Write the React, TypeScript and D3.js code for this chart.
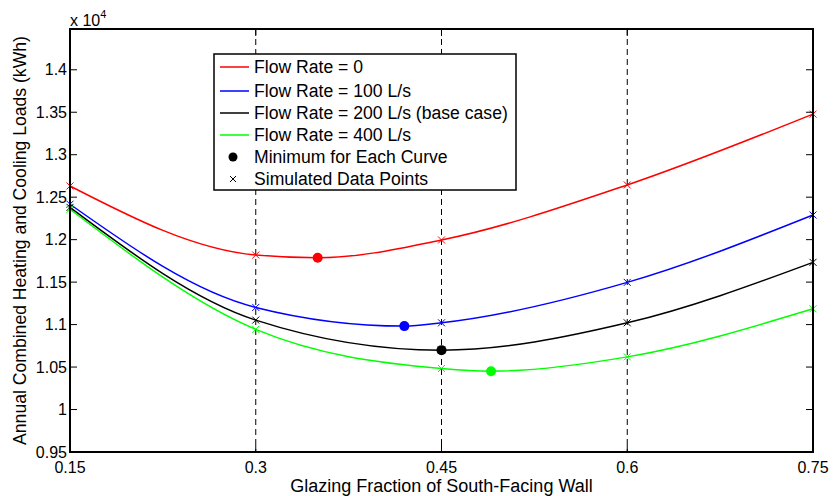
import React from "react";
import * as d3 from "d3";

const xTicks = [0.15, 0.3, 0.45, 0.6, 0.75];
const yTicks = [0.95, 1, 1.05, 1.1, 1.15, 1.2, 1.25, 1.3, 1.35, 1.4];
const yTickLabels = ["0.95", "1", "1.05", "1.1", "1.15", "1.2", "1.25", "1.3", "1.35", "1.4"];
const xTickLabels = ["0.15", "0.3", "0.45", "0.6", "0.75"];
const dashedAt = [0.3, 0.45, 0.6];

const glazing = [0.15, 0.3, 0.45, 0.6, 0.75];
const flow0 = [1.2632, 1.1819, 1.1996, 1.2644, 1.3478];
const flow100 = [1.2417, 1.1202, 1.1021, 1.1497, 1.229];
const flow200 = [1.238, 1.1053, 1.0699, 1.1021, 1.1733];
const flow400 = [1.2358, 1.0943, 1.0483, 1.062, 1.1186];

const minX = [0.35, 0.42, 0.45, 0.49];
const minY = [1.1787, 1.0982, 1.0699, 1.0451];

const seriesNames = [
  "Flow Rate = 0",
  "Flow Rate = 100 L/s",
  "Flow Rate = 200 L/s (base case)",
  "Flow Rate = 400 L/s",
];
const seriesColors = ["#ff0000", "#0000ff", "#000000", "#00ff00"];
const seriesValues = [flow0, flow100, flow200, flow400];

const W = 835;
const H = 496;
const L = 70, R = 813, T = 29, B = 452;
const FONT = "'Liberation Sans', Arial, Helvetica, sans-serif";

export default function App() {
  const x = d3.scaleLinear().domain([0.15, 0.75]).range([L, R]);
  const y = d3.scaleLinear().domain([0.95, 1.448]).range([B, T]);
  const line = d3
    .line<[number, number]>()
    .x((d) => x(d[0]))
    .y((d) => y(d[1]))
    .curve(d3.curveMonotoneX);

  const curvePoints = (i: number): [number, number][] => {
    const pts: [number, number][] = glazing.map((g, j) => [g, seriesValues[i][j]]);
    if (!glazing.includes(minX[i])) pts.push([minX[i], minY[i]]);
    return pts.sort((a, b) => a[0] - b[0]);
  };

  const cross = (cx: number, cy: number, s: number, color: string, key: string) => (
    <path
      key={key}
      d={`M${cx - s},${cy - s}L${cx + s},${cy + s}M${cx - s},${cy + s}L${cx + s},${cy - s}`}
      stroke={color}
      strokeWidth={1}
      fill="none"
    />
  );

  const legX = 214, legY = 54, legW = 302, legH = 136;
  const rowY = [67, 91, 113, 135, 157, 179];

  return (
    <svg
      width={W}
      height={H}
      style={{ position: "absolute", left: 0, top: 0, background: "#fff" }}
      fontFamily={FONT}
    >
      <rect x={0} y={0} width={W} height={H} fill="#fff" />
      {dashedAt.map((v) => (
        <line key={"d" + v} x1={x(v)} x2={x(v)} y1={T} y2={B} stroke="#000" strokeWidth={1} strokeDasharray="6,4" />
      ))}
      {seriesValues.map((_, i) => (
        <path
          key={"c" + i}
          d={line(curvePoints(i)) || ""}
          stroke={seriesColors[i]}
          strokeWidth={1.5}
          fill="none"
        />
      ))}
      {seriesValues.map((vals, i) =>
        glazing.map((g, j) => cross(x(g), y(vals[j]), 3.5, seriesColors[i], `p${i}-${j}`))
      )}
      {minX.map((mx, i) => (
        <circle key={"m" + i} cx={x(mx)} cy={y(minY[i])} r={5} fill={seriesColors[i]} />
      ))}
      <rect x={L} y={T} width={R - L} height={B - T} fill="none" stroke="#000" strokeWidth={2} />
      {yTicks.map((v, i) => (
        <g key={"yt" + i}>
          <line x1={L} x2={L + 7} y1={y(v)} y2={y(v)} stroke="#000" strokeWidth={1} />
          <line x1={R - 7} x2={R} y1={y(v)} y2={y(v)} stroke="#000" strokeWidth={1} />
          <text x={L - 3} y={y(v)} dy="0.35em" textAnchor="end" fontSize={16}>
            {yTickLabels[i]}
          </text>
        </g>
      ))}
      {xTicks.map((v, i) => (
        <g key={"xt" + i}>
          <line x1={x(v)} x2={x(v)} y1={B} y2={B - 7} stroke="#000" strokeWidth={1} />
          <line x1={x(v)} x2={x(v)} y1={T} y2={T + 7} stroke="#000" strokeWidth={1} />
          <text x={x(v)} y={473} textAnchor="middle" fontSize={16}>
            {xTickLabels[i]}
          </text>
        </g>
      ))}
      <text x={L} y={26} fontSize={16}>
        x 10
        <tspan dy={-8} fontSize={11}>4</tspan>
      </text>
      <text x={(L + R) / 2} y={492} textAnchor="middle" fontSize={18}>
        Glazing Fraction of South-Facing Wall
      </text>
      <text
        transform={`translate(26,${(T + B) / 2}) rotate(-90)`}
        textAnchor="middle"
        fontSize={17.6}
      >
        Annual Combined Heating and Cooling Loads (kWh)
      </text>
      <rect x={legX} y={legY} width={legW} height={legH} fill="#fff" stroke="#000" strokeWidth={1.5} />
      {seriesNames.map((n, i) => (
        <g key={"l" + i}>
          <line x1={220} x2={249} y1={rowY[i]} y2={rowY[i]} stroke={seriesColors[i]} strokeWidth={1.5} />
          <text x={254} y={rowY[i]} dy="0.35em" fontSize={17.6}>
            {n}
          </text>
        </g>
      ))}
      <circle cx={233} cy={rowY[4]} r={4.5} fill="#000" />
      <text x={254} y={rowY[4]} dy="0.35em" fontSize={17.6}>
        Minimum for Each Curve
      </text>
      {cross(233, rowY[5], 3, "#000", "legx")}
      <text x={254} y={rowY[5]} dy="0.35em" fontSize={17.6}>
        Simulated Data Points
      </text>
    </svg>
  );
}
